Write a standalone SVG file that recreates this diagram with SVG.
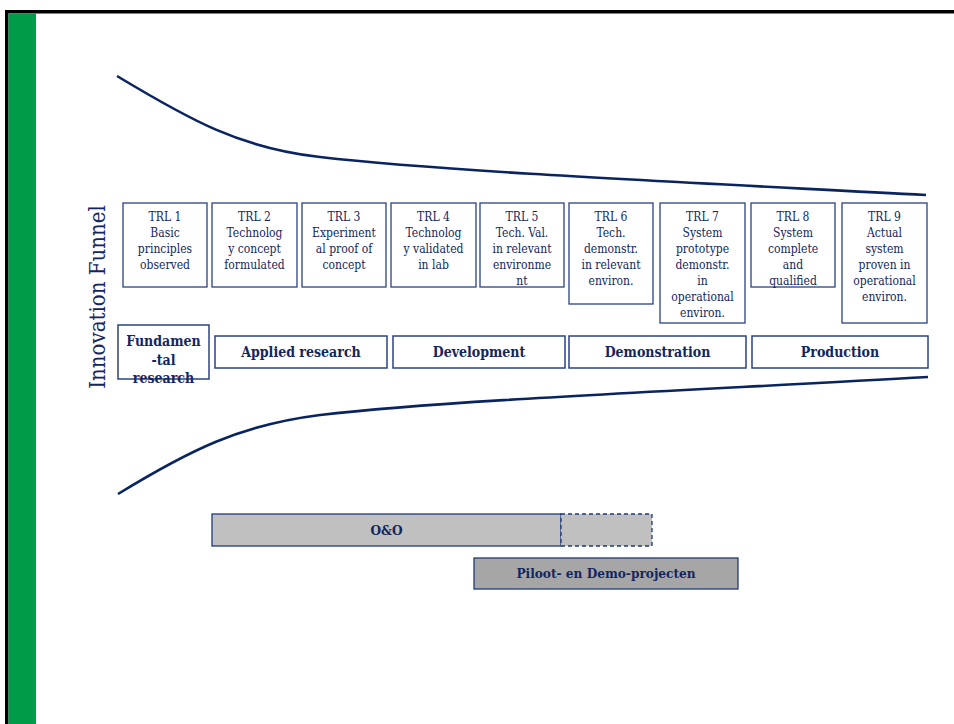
<svg xmlns="http://www.w3.org/2000/svg" width="954" height="724" viewBox="0 0 954 724">
<style>
.trl{fill:#fff;stroke:#2b4382;stroke-width:1.3}
.ph{fill:#fff;stroke:#2b4382;stroke-width:1.5}
.t{font-family:"DejaVu Serif Condensed","DejaVu Serif",serif;font-stretch:condensed;font-size:12px;fill:#14265e;text-anchor:middle}
.b{font-family:"DejaVu Serif Condensed","DejaVu Serif",serif;font-stretch:condensed;font-weight:bold;font-size:14px;fill:#14265e;text-anchor:middle}
.curve{fill:none;stroke:#0a2461;stroke-width:2.6}
</style>
<rect width="954" height="724" fill="#fff"/>
<rect x="5" y="10" width="949" height="3.5" fill="#000"/>
<rect x="5" y="10" width="3.5" height="714" fill="#000"/>
<rect x="8.5" y="13.5" width="27.5" height="711" fill="#009B48"/>
<g id="connectors">
<path class="curve" d="M117,76 C190,120 240,148 320,157 C450,172 700,183 926,195"/>
<path class="curve" d="M118,494 C190,450 240,425 320,415 C450,400 700,390 928,377"/>
</g>
<text class="t" transform="translate(104.5,297) rotate(-90)" style="font-size:22px;font-stretch:normal">Innovation Funnel</text>
<g id="trl1"><rect class="trl" x="123" y="203" width="84" height="84"/><text class="t" x="165" y="221">TRL 1<tspan x="165" dy="16">Basic</tspan><tspan x="165" dy="16">principles</tspan><tspan x="165" dy="16">observed</tspan></text></g>
<g id="trl2"><rect class="trl" x="212" y="203" width="85" height="84"/><text class="t" x="254.5" y="221">TRL 2<tspan x="254.5" dy="16">Technolog</tspan><tspan x="254.5" dy="16">y concept</tspan><tspan x="254.5" dy="16">formulated</tspan></text></g>
<g id="trl3"><rect class="trl" x="302" y="203" width="84" height="84"/><text class="t" x="344" y="221">TRL 3<tspan x="344" dy="16">Experiment</tspan><tspan x="344" dy="16">al proof of</tspan><tspan x="344" dy="16">concept</tspan></text></g>
<g id="trl4"><rect class="trl" x="391" y="203" width="85" height="84"/><text class="t" x="433.5" y="221">TRL 4<tspan x="433.5" dy="16">Technolog</tspan><tspan x="433.5" dy="16">y validated</tspan><tspan x="433.5" dy="16">in lab</tspan></text></g>
<g id="trl5"><rect class="trl" x="480" y="203" width="84" height="84"/><text class="t" x="522" y="221">TRL 5<tspan x="522" dy="16">Tech. Val.</tspan><tspan x="522" dy="16">in relevant</tspan><tspan x="522" dy="16">environme</tspan><tspan x="522" dy="16">nt</tspan></text></g>
<g id="trl6"><rect class="trl" x="569" y="203" width="84" height="101"/><text class="t" x="611" y="221">TRL 6<tspan x="611" dy="16">Tech.</tspan><tspan x="611" dy="16">demonstr.</tspan><tspan x="611" dy="16">in relevant</tspan><tspan x="611" dy="16">environ.</tspan></text></g>
<g id="trl7"><rect class="trl" x="660" y="203" width="85" height="120"/><text class="t" x="702.5" y="221">TRL 7<tspan x="702.5" dy="16">System</tspan><tspan x="702.5" dy="16">prototype</tspan><tspan x="702.5" dy="16">demonstr.</tspan><tspan x="702.5" dy="16">in</tspan><tspan x="702.5" dy="16">operational</tspan><tspan x="702.5" dy="16">environ.</tspan></text></g>
<g id="trl8"><rect class="trl" x="751" y="203" width="84" height="84"/><text class="t" x="793" y="221">TRL 8<tspan x="793" dy="16">System</tspan><tspan x="793" dy="16">complete</tspan><tspan x="793" dy="16">and</tspan><tspan x="793" dy="16">qualified</tspan></text></g>
<g id="trl9"><rect class="trl" x="842" y="203" width="85" height="120"/><text class="t" x="884.5" y="221">TRL 9<tspan x="884.5" dy="16">Actual</tspan><tspan x="884.5" dy="16">system</tspan><tspan x="884.5" dy="16">proven in</tspan><tspan x="884.5" dy="16">operational</tspan><tspan x="884.5" dy="16">environ.</tspan></text></g>
<g id="fundamental"><rect class="ph" x="118" y="325" width="91" height="54"/><text class="b" x="163.5" y="346">Fundamen<tspan x="163.5" dy="18.5">-tal</tspan><tspan x="163.5" dy="18.5">research</tspan></text></g>
<g id="applied"><rect class="ph" x="215" y="336" width="172" height="32"/><text class="b" x="301" y="356.5">Applied research</text></g>
<g id="development"><rect class="ph" x="393" y="336" width="172" height="32"/><text class="b" x="479" y="356.5">Development</text></g>
<g id="demonstration"><rect class="ph" x="569" y="336" width="177" height="32"/><text class="b" x="657.5" y="356.5">Demonstration</text></g>
<g id="production"><rect class="ph" x="752" y="336" width="176" height="32"/><text class="b" x="840" y="356.5">Production</text></g>
<g id="oeno"><rect x="212" y="514" width="349" height="32" fill="#c0c0c0" stroke="#1f3a78" stroke-width="1.3"/><rect x="561" y="514" width="91" height="32" fill="#c0c0c0" stroke="#1f3a78" stroke-width="1.3" stroke-dasharray="4,3"/><text class="b" x="386.5" y="534.5" style="font-size:13.5px">O&amp;O</text></g>
<g id="piloot"><rect x="474" y="558" width="264" height="31" fill="#a6a6a6" stroke="#1f3a78" stroke-width="1.3"/><text class="b" x="606" y="578" style="font-size:13.5px">Piloot- en Demo-projecten</text></g>
</svg>
